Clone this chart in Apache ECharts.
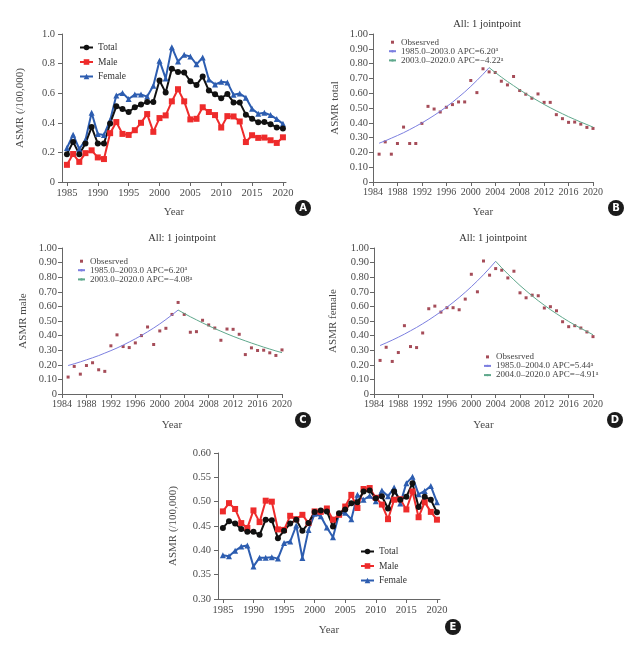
<!DOCTYPE html>
<html><head><meta charset="utf-8">
<script src="https://cdn.jsdelivr.net/npm/echarts@6/dist/echarts.min.js"></script>
<style>html,body{margin:0;padding:0;background:#fff}#c{width:639px;height:649px}</style>
</head><body><div id="c"></div>
<script>
const years = [1985,1986,1987,1988,1989,1990,1991,1992,1993,1994,1995,1996,1997,1998,1999,2000,2001,2002,2003,2004,2005,2006,2007,2008,2009,2010,2011,2012,2013,2014,2015,2016,2017,2018,2019,2020];
const tickYearsA = [1985,1990,1995,2000,2005,2010,2015,2020];
// Panels A-D observed ASMR
const total = [0.188,0.271,0.188,0.26,0.371,0.26,0.26,0.396,0.511,0.493,0.473,0.505,0.523,0.541,0.541,0.686,0.604,0.765,0.744,0.740,0.681,0.656,0.713,0.618,0.593,0.566,0.595,0.538,0.538,0.455,0.428,0.403,0.405,0.391,0.369,0.362];
const male = [0.116,0.189,0.136,0.195,0.214,0.166,0.155,0.330,0.405,0.325,0.318,0.35,0.40,0.459,0.339,0.432,0.45,0.545,0.627,0.545,0.423,0.427,0.505,0.473,0.452,0.368,0.445,0.443,0.409,0.27,0.316,0.298,0.30,0.282,0.264,0.302];
const female = [0.23,0.32,0.223,0.284,0.468,0.325,0.318,0.418,0.584,0.602,0.561,0.591,0.591,0.577,0.65,0.82,0.70,0.911,0.814,0.859,0.848,0.795,0.841,0.693,0.659,0.677,0.673,0.589,0.598,0.57,0.495,0.461,0.468,0.452,0.425,0.393];
// Joinpoint fitted values
const fitTotalYears1 = years.slice(0,19);   // 1985-2003
const fitTotal1 = [0.262,0.278,0.296,0.314,0.333,0.354,0.376,0.399,0.424,0.450,0.478,0.508,0.539,0.573,0.608,0.646,0.686,0.728,0.773];
const fitTotalYears2 = years.slice(18);     // 2003-2020
const fitTotal2 = [0.773,0.740,0.709,0.679,0.651,0.623,0.597,0.572,0.548,0.524,0.502,0.481,0.461,0.441,0.423,0.405,0.388,0.371];
const fitMale1 = [0.195,0.207,0.220,0.234,0.248,0.263,0.280,0.297,0.315,0.335,0.356,0.378,0.401,0.426,0.452,0.480,0.510,0.542,0.575];
const fitMale2 = [0.575,0.552,0.529,0.508,0.487,0.467,0.448,0.430,0.412,0.395,0.379,0.364,0.349,0.335,0.321,0.308,0.295,0.283];
const fitFemaleYears1 = years.slice(0,20);  // 1985-2004
const fitFemale1 = [0.332,0.350,0.369,0.389,0.410,0.433,0.456,0.481,0.507,0.535,0.564,0.595,0.627,0.661,0.697,0.735,0.775,0.817,0.862,0.909];
const fitFemaleYears2 = years.slice(19);    // 2004-2020
const fitFemale2 = [0.909,0.864,0.822,0.782,0.743,0.707,0.672,0.639,0.608,0.578,0.550,0.523,0.497,0.473,0.450,0.428,0.406];
// Panel E
const totalE = [0.446,0.46,0.455,0.444,0.438,0.438,0.432,0.463,0.462,0.425,0.44,0.455,0.463,0.44,0.456,0.479,0.482,0.48,0.449,0.476,0.484,0.497,0.499,0.521,0.523,0.507,0.511,0.486,0.521,0.504,0.51,0.538,0.489,0.51,0.504,0.478];
const maleE = [0.48,0.497,0.485,0.456,0.446,0.482,0.458,0.502,0.50,0.443,0.442,0.471,0.464,0.473,0.456,0.48,0.479,0.486,0.463,0.473,0.49,0.514,0.487,0.526,0.528,0.508,0.494,0.464,0.504,0.505,0.484,0.521,0.468,0.499,0.479,0.463];
const femaleE = [0.39,0.388,0.399,0.408,0.41,0.367,0.385,0.385,0.386,0.383,0.415,0.418,0.451,0.384,0.442,0.475,0.47,0.447,0.427,0.475,0.477,0.464,0.514,0.504,0.512,0.501,0.523,0.511,0.529,0.496,0.538,0.551,0.515,0.522,0.532,0.499];

const legendLabels = {
  B1: '1985.0\u20132003.0 APC=6.20{s|a}',
  B2: '2003.0\u20132020.0 APC=\u22124.22{s|a}',
  C1: '1985.0\u20132003.0 APC=6.20{s|a}',
  C2: '2003.0\u20132020.0 APC=\u22124.08{s|a}',
  D1: '1985.0\u20132004.0 APC=5.44{s|a}',
  D2: '2004.0\u20132020.0 APC=\u22124.91{s|a}'
};

const FONT = "'Liberation Serif','DejaVu Serif',serif";
const TXT = '#4a4a4a';
const zip = (xs, ys) => xs.map((x, i) => [x, ys[i]]);

const grids = [
  {left:62, top:34, width:224, height:148},   // A
  {left:373, top:34, width:220, height:148},  // B
  {left:62, top:248, width:220, height:146},  // C
  {left:374, top:248, width:219, height:146}, // D
  {left:218, top:453, width:222, height:146}  // E
];
const axisLine = {lineStyle:{color:'#666', width:1}};
const axisTick = {length:4, lineStyle:{color:'#666'}};
const yearFmt = v => String(Math.round(v));
function xLabel(extra) {
  return Object.assign({fontFamily:FONT, fontSize:10.5, color:TXT, margin:6, formatter:yearFmt}, extra || {});
}
function xAx(i, o) {
  return Object.assign({type:'value', gridIndex:i, name:'Year', nameLocation:'middle', nameGap:25,
    nameTextStyle:{fontFamily:FONT, fontSize:11, color:TXT},
    axisLine:axisLine, splitLine:{show:false}, axisLabel:xLabel()}, o);
}
function yAx(i, name, gap, o) {
  return Object.assign({type:'value', gridIndex:i, name:name, nameLocation:'middle', nameGap:gap,
    nameTextStyle:{fontFamily:FONT, fontSize:11, color:TXT},
    axisLine:Object.assign({show:true}, axisLine), axisTick:Object.assign({show:true}, axisTick), splitLine:{show:false}}, o);
}
const fmt2 = v => v === 0 ? '0' : v.toFixed(2);

const xAxes = [
  xAx(0, {min:1984.2, max:2020.5, axisTick:Object.assign({customValues:tickYearsA}, axisTick),
    axisLabel:xLabel({customValues:tickYearsA})}),
  xAx(1, {min:1984, max:2020, interval:4, axisTick:axisTick, axisLabel:xLabel({fontSize:10, margin:5})}),
  xAx(2, {min:1984, max:2020, interval:4, axisTick:axisTick, nameGap:26, axisLabel:xLabel({fontSize:10, margin:5})}),
  xAx(3, {min:1984, max:2020, interval:4, axisTick:axisTick, nameGap:26, axisLabel:xLabel({fontSize:10, margin:5})}),
  xAx(4, {min:1984.2, max:2020.5, nameGap:26, axisTick:Object.assign({customValues:tickYearsA}, axisTick),
    axisLabel:xLabel({customValues:tickYearsA})})
];
const yAxes = [
  yAx(0, 'ASMR (/100,000)', 36, {min:0, max:1, interval:0.2, axisLabel:{fontFamily:FONT, fontSize:10.5, color:TXT, margin:7, formatter:v => v===0?'0':v.toFixed(1)}}),
  yAx(1, 'ASMR total', 32, {min:0, max:1, interval:0.1, axisLabel:{fontFamily:FONT, fontSize:10.5, color:TXT, margin:5, formatter:fmt2}}),
  yAx(2, 'ASMR male', 33, {min:0, max:1, interval:0.1, axisLabel:{fontFamily:FONT, fontSize:10.5, color:TXT, margin:5, formatter:fmt2}}),
  yAx(3, 'ASMR female', 35, {min:0, max:1, interval:0.1, axisLabel:{fontFamily:FONT, fontSize:10.5, color:TXT, margin:5, formatter:fmt2}}),
  yAx(4, 'ASMR (/100,000)', 39, {min:0.3, max:0.6, interval:0.05, axisLabel:{fontFamily:FONT, fontSize:10.5, color:TXT, margin:7, formatter:fmt2}})
];

const BLACK = '#111111', RED = '#ee2b2b', BLUE = '#2d5db0', DOT = '#8e1f2e', FIT1 = '#7c7fe0', FIT2 = '#5fa88c';
function lineSeries(name, idx, data, color, symbol, size) {
  return {type:'line', name:name, xAxisIndex:idx, yAxisIndex:idx, data:data, symbol:symbol, symbolSize:size,
    lineStyle:{color:color, width:2}, itemStyle:{color:color}, animation:false, z:3};
}
function dots(idx, ys) {
  return {type:'scatter', name:'Obsesrved', xAxisIndex:idx, yAxisIndex:idx, data:zip(years, ys),
    symbol:'rect', symbolSize:3, itemStyle:{color:DOT}, animation:false};
}
function fit(name, idx, xs, ys, color) {
  return {type:'line', name:name, xAxisIndex:idx, yAxisIndex:idx, data:zip(xs, ys), symbol:'none',
    lineStyle:{color:color, width:1}, itemStyle:{color:color}, animation:false};
}
const series = [
  lineSeries('Female', 0, zip(years, female), BLUE, 'triangle', 6),
  lineSeries('Male', 0, zip(years, male), RED, 'rect', 6),
  lineSeries('Total', 0, zip(years, total), BLACK, 'circle', 6),
  fit('B1', 1, fitTotalYears1, fitTotal1, FIT1),
  fit('B2', 1, fitTotalYears2, fitTotal2, FIT2),
  dots(1, total),
  fit('C1', 2, fitTotalYears1, fitMale1, FIT1),
  fit('C2', 2, fitTotalYears2, fitMale2, FIT2),
  dots(2, male),
  fit('D1', 3, fitFemaleYears1, fitFemale1, FIT1),
  fit('D2', 3, fitFemaleYears2, fitFemale2, FIT2),
  dots(3, female),
  lineSeries('Female', 4, zip(years, femaleE), BLUE, 'triangle', 6),
  lineSeries('Male', 4, zip(years, maleE), RED, 'rect', 6),
  lineSeries('Total', 4, zip(years, totalE), BLACK, 'circle', 6)
];

const legTxt = {fontFamily:FONT, fontSize:9.5, color:'#333', lineHeight:9};
const smallTxt = {fontFamily:FONT, fontSize:9, color:'#444', lineHeight:8.6, rich:{s:{fontSize:6, verticalAlign:'top', lineHeight:8.6, padding:[0,0,3,0]}}};
function mainLegend(left, top) {
  return {orient:'vertical', left:left, top:top, padding:0, itemWidth:13, itemHeight:7, itemGap:4.5,
    data:['Total','Male','Female'], textStyle:legTxt, selectedMode:false};
}
function fitLegend(left, top, a, b, itemW) {
  return {orient:'vertical', left:left, top:top, padding:0, itemWidth:itemW, itemHeight:3, itemGap:0,
    symbolKeepAspect:true,
    data:[{name:'Obsesrved', icon:'path://M0,0L10,0L10,10L0,10Z'}, a, b], textStyle:smallTxt, selectedMode:false,
    formatter: n => legendLabels[n] || n};
}
function title(text, x, y) {
  return {text:text, left:x, top:y, textAlign:'center', padding:0,
    textStyle:{fontFamily:FONT, fontSize:10.5, fontWeight:'normal', color:'#333'}};
}
function badge(letter, x, y) {
  return {type:'group', x:x, y:y, silent:true, children:[
    {type:'circle', shape:{cx:0, cy:0, r:8}, style:{fill:'#1b1b1b'}},
    {type:'text', style:{text:letter, x:0, y:0.5, align:'center', verticalAlign:'middle', fill:'#fff',
      font:"bold 10px 'DejaVu Sans', sans-serif"}}
  ]};
}

const chart = echarts.init(document.getElementById('c'), null, {renderer:'canvas'});
chart.setOption({
  backgroundColor:'#ffffff',
  animation:false,
  title:[title('All: 1 jointpoint', 487, 19), title('All: 1 jointpoint', 182, 233), title('All: 1 jointpoint', 493, 233)],
  legend:[
    mainLegend(79, 42.5),
    fitLegend(388, 37.7, 'B1', 'B2', 7),
    fitLegend(77, 256.7, 'C1', 'C2', 7),
    fitLegend(483, 352.4, 'D1', 'D2', 7),
    mainLegend(360, 546.5)
  ],
  grid:grids,
  xAxis:xAxes,
  yAxis:yAxes,
  series:series,
  graphic:[badge('A', 303, 208), badge('B', 616, 208), badge('C', 303, 420), badge('D', 615, 420), badge('E', 453, 627)]
});
</script></body></html>
